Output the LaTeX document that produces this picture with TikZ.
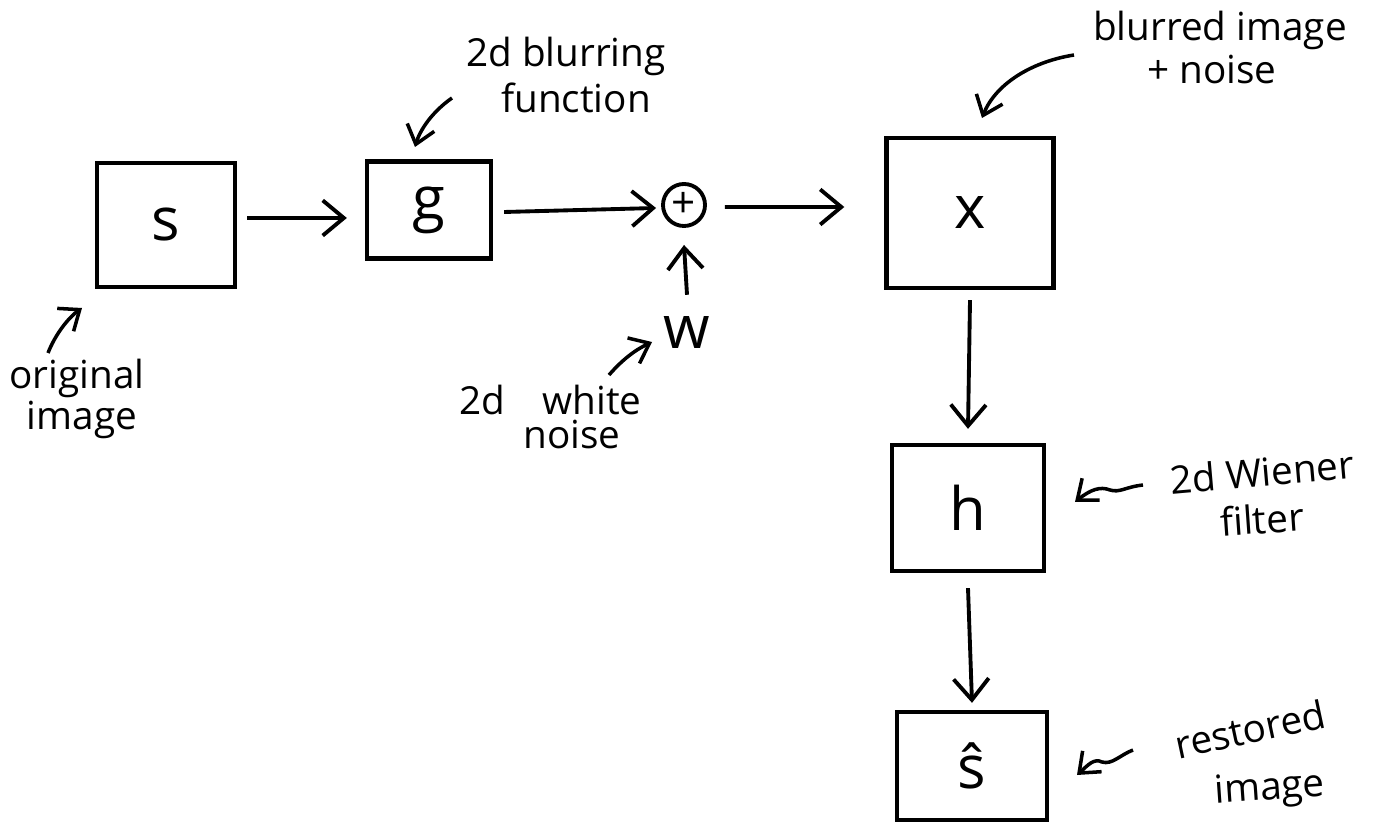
\documentclass[tikz,border=0pt]{standalone}
\usepackage{fontspec}
\setmainfont{Open Sans}
\usetikzlibrary{arrows.meta}
\begin{document}
\begin{tikzpicture}[x=0.01cm,y=-0.01cm,
  box/.style={draw, line width=1.2pt, inner sep=0pt, font=\fontsize{17}{20}\selectfont},
  note/.style={font=\fontsize{11}{12}\selectfont, inner sep=0pt},
  flow/.style={-{Straight Barb[length=6pt,width=10pt]}, line width=1.1pt},
  ann/.style={-{Straight Barb[length=5pt,width=8pt]}, line width=1pt}]
\useasboundingbox (0,0) rectangle (1388,834);
% blocks
\node[box, minimum width=1.38cm, minimum height=1.24cm] (s) at (166,225) {s};
\node[box, minimum width=1.24cm, minimum height=0.97cm] (g) at (429,210) {g};
\node[draw, circle, minimum size=0.42cm, inner sep=0pt, line width=1.1pt, font=\large] (sum) at (684,205) {+};
\node[box, minimum width=1.67cm, minimum height=1.5cm] (x) at (970,213) {x};
\node[box, minimum width=1.52cm, minimum height=1.26cm] (h) at (968,508) {h};
\node[box, minimum width=1.5cm, minimum height=1.08cm] (shat) at (972,766) {ŝ};
\node[font=\fontsize{17}{20}\selectfont, inner sep=1pt] (w) at (687,333) {w};
% flow arrows
\draw[flow] ([xshift=0.1cm,yshift=0.07cm]s.east) -- ([xshift=-0.18cm,yshift=-0.08cm]g.west);
\draw[flow] ([xshift=0.11cm,yshift=-0.02cm]g.east) -- ([xshift=-0.05cm,yshift=-0.03cm]sum.west);
\draw[flow] ([xshift=0.18cm,yshift=-0.02cm]sum.east) -- ([xshift=-0.4cm,yshift=0.06cm]x.west);
\draw[flow] ([yshift=0.18cm]w.north) -- ([yshift=-0.17cm]sum.south);
\draw[flow] ([yshift=-0.1cm]x.south) -- ([yshift=0.14cm]h.north);
\draw[flow] ([yshift=-0.15cm]h.south) -- ([yshift=0.07cm]shat.north);
% annotations
\node[note] (blur1) at (566,56) {2d blurring};
\node[note] (blur2) at (576,98) {function};
\coordinate (bt1) at (452,98);
\coordinate (bt2) at (415,147);
\draw[ann] (bt1) .. controls (432,112) and (420,130) .. (bt2);

\node[note] (bn1txt) at (1220,30) {blurred image};
\node[note] (bn2txt) at (1212,70) {+ noise};
\coordinate (bn1) at (1074,55);
\coordinate (bn2) at (982,118);
\draw[ann] (bn1) .. controls (1030,62) and (995,85) .. (bn2);

\node[note] (or1txt) at (77,378) {original};
\node[note] (or2txt) at (82,420) {image};
\coordinate (or1) at (48,353);
\coordinate (or2) at (82,308);
\draw[ann] (or1) .. controls (55,335) and (68,318) .. (or2);

\node[note] (wn1txt) at (482,400) {2d};
\node[note] (wn2txt) at (592,400) {white};
\node[note] (wn3txt) at (572,434) {noise};
\coordinate (wn1) at (609,375);
\coordinate (wn2) at (652,342);
\draw[ann] (wn1) .. controls (622,360) and (635,350) .. (wn2);

\node[note, rotate=5] (wf1txt) at (1262,472) {2d Wiener};
\node[note, rotate=4] (wf2txt) at (1262,519) {filter};
\coordinate (wf1) at (1143,485);
\coordinate (wf2) at (1075,502);
\draw[ann] (wf1) .. controls (1125,487) and (1120,493) .. (1110,490) .. controls (1100,486) and (1090,490) .. (wf2);

\node[note, rotate=12] (rs1txt) at (1250,729) {restored};
\node[note, rotate=4] (rs2txt) at (1270,790) {image};
\coordinate (rs1) at (1133,750);
\coordinate (rs2) at (1077,775);
\draw[ann] (rs1) .. controls (1120,755) and (1112,765) .. (1102,762) .. controls (1094,758) and (1088,765) .. (rs2);
\end{tikzpicture}
\end{document}
